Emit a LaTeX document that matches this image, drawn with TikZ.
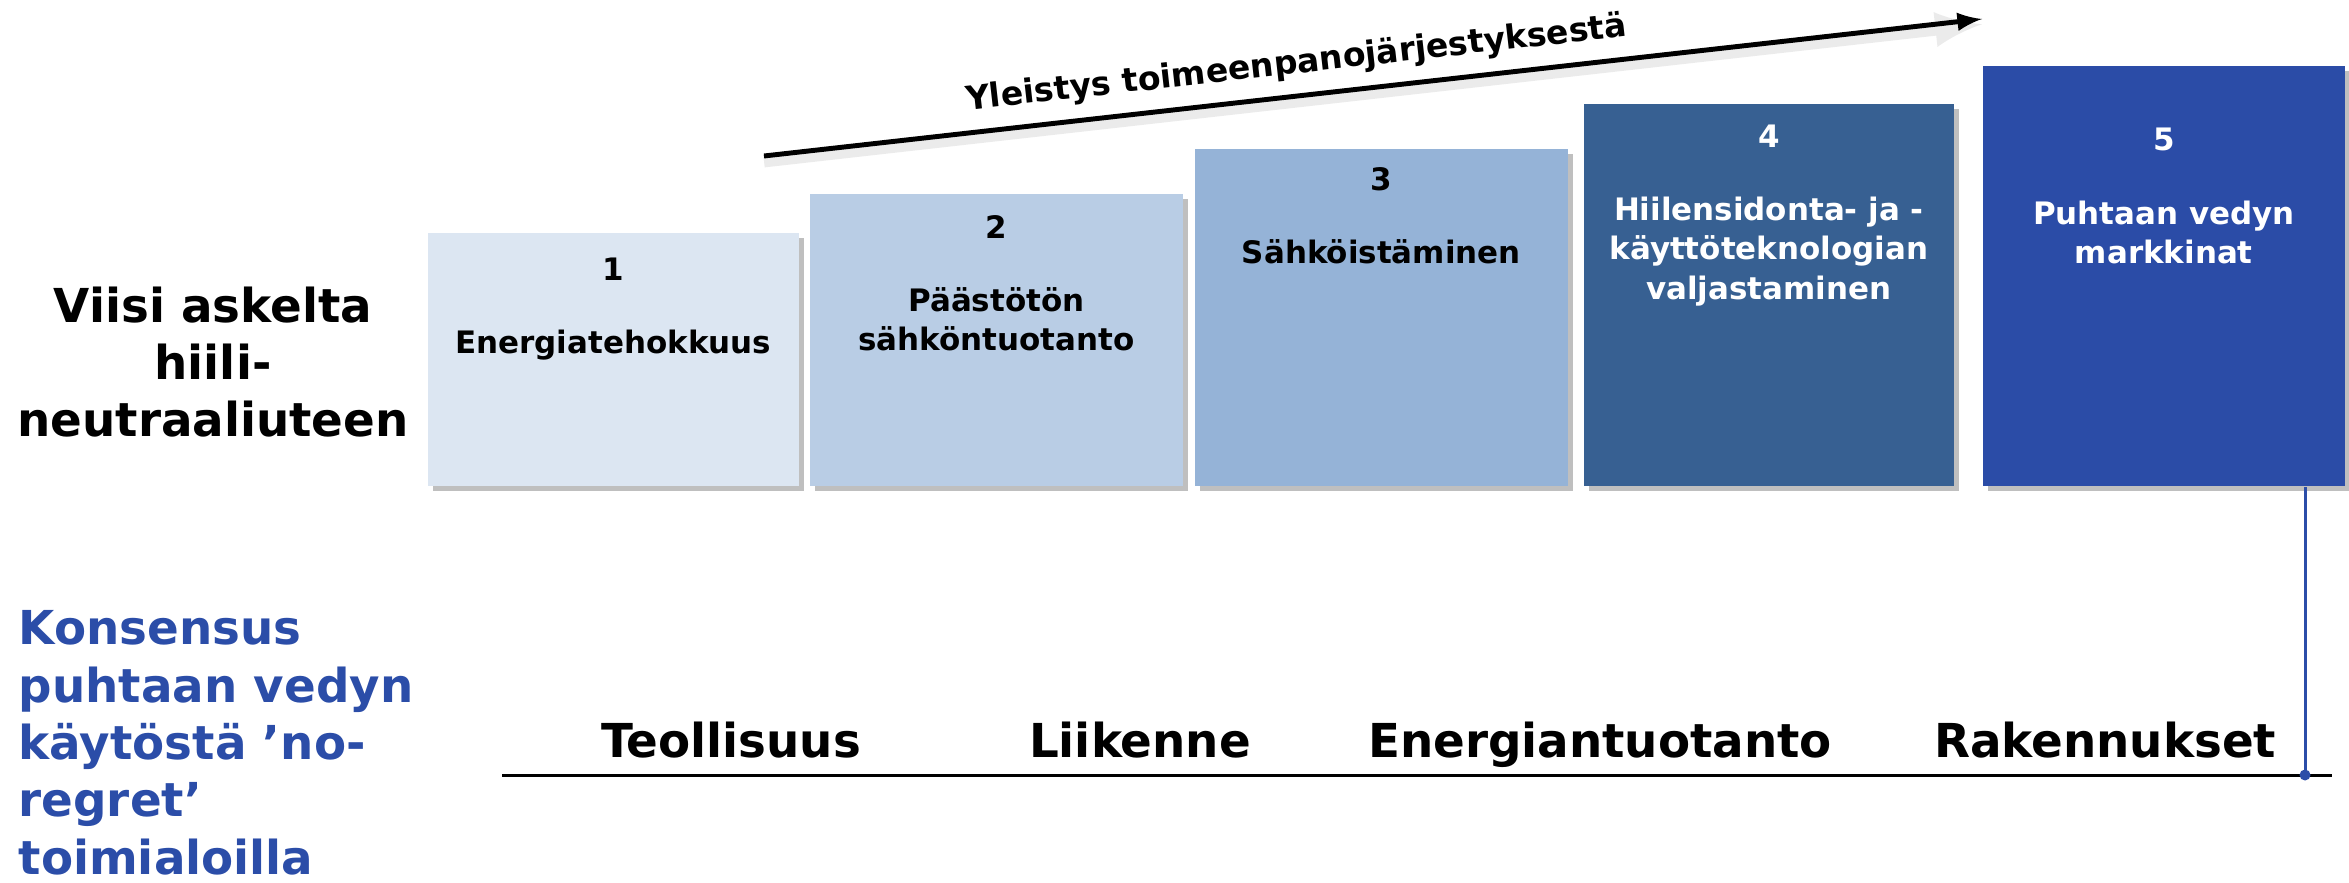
\documentclass[tikz,border=0pt]{standalone}
\usepackage{fontspec}
\setmainfont{DejaVu Sans}
\usetikzlibrary{positioning,shadows,arrows}
\definecolor{stepA}{HTML}{DCE6F2}
\definecolor{stepB}{HTML}{B9CDE5}
\definecolor{stepC}{HTML}{95B3D7}
\definecolor{stepD}{HTML}{376092}
\definecolor{stepE}{HTML}{2B4CA7}
\definecolor{konsblue}{HTML}{2B4DA8}

\begin{document}
\begin{tikzpicture}[
x=0.01cm, y=-0.01cm,
stepbox/.style={
  inner sep=0pt,
  anchor=south west,
  drop shadow={shadow xshift=0.05cm,shadow yshift=-0.05cm,fill=black!50,opacity=0.5}
},
numtext/.style={
  inner sep=0pt,
  font=\fontsize{8.8}{11.2}\selectfont\bfseries
},
titletext/.style={
  numtext,
  align=center
},
bigtext/.style={
  inner sep=0pt,
  font=\fontsize{13.3}{16.3}\selectfont\bfseries
},
sector/.style={
  bigtext,
  anchor=base
}
]
\useasboundingbox (0,0) rectangle (2349,882);

% askeleet
\node[stepbox,fill=stepA,minimum width=3.71cm,minimum height=2.53cm] at (427,487)
  (b1) {};
\node[stepbox,fill=stepB,minimum width=3.73cm,minimum height=2.92cm] at (809,487)
  (b2) {};
\node[stepbox,fill=stepC,minimum width=3.73cm,minimum height=3.37cm] at (1194,487)
  (b3) {};
\node[stepbox,fill=stepD,minimum width=3.70cm,minimum height=3.82cm] at (1583,487)
  (b4) {};
\node[stepbox,fill=stepE,minimum width=3.62cm,minimum height=4.20cm] at (1982,487)
  (b5) {};

\node[numtext,below=0.25cm of b1.north] (n1) {1};
\node[titletext,below=0.48cm of n1] (t1) {Energiatehokkuus};
\node[numtext,below=0.21cm of b2.north] (n2) {2};
\node[titletext,below=0.48cm of n2] (t2) {Päästötön\\sähköntuotanto};
\node[numtext,below=0.18cm of b3.north] (n3) {3};
\node[titletext,below=0.48cm of n3] (t3) {Sähköistäminen};
\node[numtext,text=white,below=0.21cm of b4.north] (n4) {4};
\node[titletext,text=white,below=0.48cm of n4] (t4) {Hiilensidonta- ja -\\käyttöteknologian\\valjastaminen};
\node[numtext,text=white,below=0.62cm of b5.north] (n5) {5};
\node[titletext,text=white,below=0.48cm of n5] (t5) {Puhtaan vedyn\\markkinat};

% nuoli
\coordinate (arrS) at (764,156);
\coordinate (arrE) at (1982,19);
\draw[-latex,line width=1.4pt,preaction={draw=black!8,line width=3.5pt,transform canvas={yshift=-1.5pt}}] (arrS) -- node[pos=0.44,sloped,above=0.13cm,inner sep=0pt,font=\fontsize{9.4}{11}\selectfont\bfseries] (yl) {Yleistys toimeenpanojärjestyksestä} (arrE);

% vasen reuna
\node[bigtext,align=center,anchor=north] at (213,286)
  (viisi) {Viisi askelta\\hiili-\\neutraaliuteen};
\node[bigtext,align=left,anchor=north west,text=konsblue] at (18,610)
  (kons) {Konsensus\\puhtaan vedyn\\käytöstä ’no-\\regret’\\toimialoilla};

% toimialat
\node[sector] at (731,757) (s1) {Teollisuus};
\node[sector] at (1140,757) (s2) {Liikenne};
\node[sector] at (1600,757) (s3) {Energiantuotanto};
\node[sector] at (2105,757) (s4) {Rakennukset};

\coordinate (lineL) at (502,775);
\coordinate (lineR) at (2332,775);
\coordinate (dot) at (2305,775);
\draw[line width=0.85pt] (lineL) -- (lineR);
\draw[konsblue,line width=0.85pt] (b5.south -| dot) -- (dot);
\fill[konsblue] (dot) circle (0.055cm);
\end{tikzpicture}
\end{document}
